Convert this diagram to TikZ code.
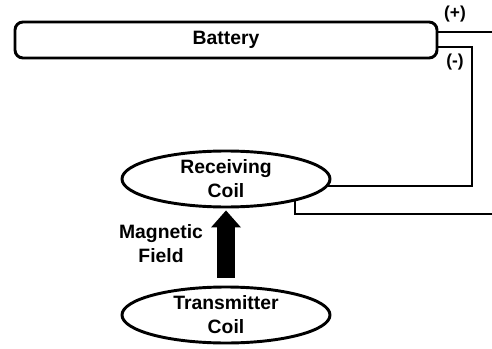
\documentclass[tikz,border=0pt]{standalone}
\usepackage{fontspec}
\setmainfont{Liberation Sans}
\usetikzlibrary{arrows.meta,positioning,shapes.geometric}

\begin{document}
\begin{tikzpicture}[
    x=0.75pt, y=-0.75pt,
    every node/.style={font=\fontsize{14.5}{18}\selectfont\bfseries},
    coil/.style={draw, ellipse, line width=2.2pt, minimum width=156pt,
        minimum height=42pt, inner sep=0pt, align=center},
    cell/.style={draw, rectangle, rounded corners=6pt, line width=2.2pt,
        minimum width=316.5pt, minimum height=27pt, inner sep=0pt},
    wire/.style={line width=1.4pt},
    field/.style={line width=13.5pt,
        -{Triangle[width=22.5pt,length=12.75pt,line width=0pt]}},
    pole/.style={font=\fontsize{13}{15}\selectfont\bfseries}
]
\useasboundingbox (0,0) rectangle (492,349);

% Battery
\node[cell] (bat) at (226,40) {Battery};

% Coils
\node[coil] (rx) at (226,179) {Receiving\\Coil};
\node[coil] (tx) at (226,315) {Transmitter\\Coil};

% Terminals
\coordinate (plusend) at (492,32);
\coordinate (minusturn) at (472,47);
\coordinate (lowend) at (492,214);
\node[pole] (plus) at (455,14) {(+)};
\node[pole] (minus) at (455,62) {(-)};

% Wires
\draw[wire] (bat.east |- plusend) -- (plusend);
\draw[wire] (bat.east |- minusturn) -- (minusturn) |- (rx.-4);
\draw[wire] (rx.-18) |- (lowend);

% Magnetic field
\draw[field, shorten <=6pt, shorten >=1.5pt] (tx.north) -- (rx.south);
\node[align=center] (mag) at (161,244) {Magnetic\\Field};
\end{tikzpicture}
\end{document}
